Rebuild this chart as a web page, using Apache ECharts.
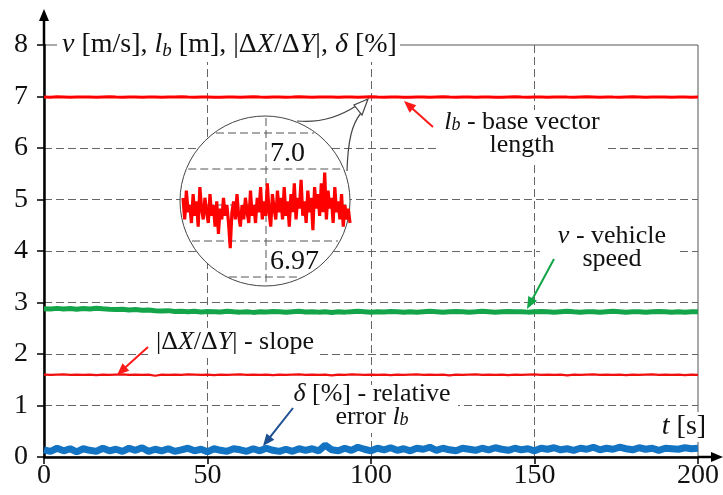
<!DOCTYPE html>
<html><head><meta charset="utf-8">
<script src="https://cdn.jsdelivr.net/npm/echarts@6/dist/echarts.min.js"></script>
<style>html,body{margin:0;padding:0;background:#fff}#c{width:723px;height:495px}</style>
</head><body><div id="c"></div>
<script>
// ---- data ----
const time = [0,2,4,6,8,10,12,14,16,18,20,22,24,26,28,30,32,34,36,38,40,42,44,46,48,50,52,54,56,58,60,62,64,66,68,70,72,74,76,78,80,82,84,86,88,90,92,94,96,98,100,102,104,106,108,110,112,114,116,118,120,122,124,126,128,130,132,134,136,138,140,142,144,146,148,150,152,154,156,158,160,162,164,166,168,170,172,174,176,178,180,182,184,186,188,190,192,194,196,198,200];
const lbLength = [6.990,6.986,6.993,6.989,6.985,6.991,6.988,6.992,6.986,6.990,
6.993,6.988,6.985,6.991,6.989,6.986,6.992,6.990,6.987,6.991,
6.989,6.993,6.988,6.986,6.990,6.992,6.987,6.985,6.991,6.989,
6.986,6.990,6.993,6.988,6.985,6.990,6.992,6.986,6.989,6.993,
6.990,6.986,6.991,6.988,6.990,6.985,6.992,6.989,6.986,6.990,
6.993,6.988,6.986,6.991,6.989,6.987,6.984,6.990,6.992,6.986,
6.990,6.993,6.988,6.985,6.991,6.989,6.986,6.992,6.990,6.987,
6.985,6.990,6.993,6.988,6.986,6.991,6.989,6.985,6.990,6.992,
6.988,6.986,6.990,6.993,6.989,6.985,6.992,6.988,6.986,6.990,
6.993,6.989,6.985,6.991,6.988,6.990,6.986,6.992,6.989,6.986,
6.990];
const vehicleSpeed = [2.880,2.872,2.886,2.875,2.882,2.868,2.884,2.874,2.888,2.878,2.870,
2.864,2.870,2.856,2.862,2.848,2.854,2.842,2.836,2.842,2.826,2.832,2.822,2.830,2.816,2.824,
2.822,2.814,2.828,2.820,2.813,2.822,2.808,2.820,2.814,2.826,
2.820,2.812,2.821,2.828,2.814,2.822,2.813,2.820,2.806,2.820,
2.813,2.822,2.828,2.820,2.812,2.821,2.814,2.826,2.820,2.812,
2.820,2.813,2.821,2.828,2.820,2.812,2.820,2.827,2.820,2.813,
2.820,2.828,2.821,2.812,2.820,2.827,2.820,2.822,2.813,2.820,
2.827,2.820,2.812,2.820,2.828,2.820,2.813,2.820,2.822,2.812,
2.820,2.828,2.821,2.813,2.820,2.822,2.812,2.820,2.827,2.820,
2.813,2.820,2.812,2.820,2.818];
const slope = [1.600,1.594,1.600,1.604,1.595,1.600,1.594,1.600,1.588,1.600,
1.595,1.600,1.604,1.594,1.600,1.595,1.600,1.578,1.600,1.594,
1.600,1.595,1.604,1.600,1.594,1.600,1.588,1.600,1.595,1.600,
1.604,1.594,1.600,1.595,1.600,1.588,1.600,1.594,1.600,1.604,
1.595,1.600,1.594,1.600,1.586,1.600,1.595,1.604,1.600,1.594,
1.600,1.595,1.600,1.588,1.600,1.594,1.600,1.604,1.595,1.600,
1.594,1.600,1.586,1.600,1.595,1.600,1.604,1.594,1.600,1.595,
1.600,1.588,1.600,1.594,1.600,1.604,1.595,1.600,1.594,1.600,
1.586,1.600,1.595,1.600,1.604,1.594,1.600,1.595,1.600,1.588,
1.600,1.594,1.600,1.604,1.595,1.600,1.594,1.600,1.588,1.600,
1.595];
const relError = [0.14,0.11,0.17,0.12,0.16,0.10,0.16,0.13,0.11,0.17,
0.12,0.15,0.11,0.17,0.13,0.18,0.11,0.15,0.12,0.16,
0.11,0.14,0.17,0.12,0.15,0.10,0.16,0.13,0.11,0.16,
0.14,0.11,0.16,0.12,0.17,0.13,0.11,0.15,0.11,0.16,
0.13,0.16,0.12,0.23,0.14,0.12,0.17,0.13,0.19,0.15,
0.12,0.17,0.14,0.18,0.13,0.16,0.12,0.17,0.15,0.19,
0.13,0.17,0.14,0.12,0.17,0.15,0.13,0.17,0.14,0.18,
0.15,0.13,0.17,0.14,0.16,0.12,0.17,0.15,0.18,0.14,
0.16,0.13,0.17,0.15,0.19,0.14,0.17,0.15,0.19,0.16,
0.14,0.18,0.15,0.17,0.13,0.17,0.16,0.15,0.18,0.16,
0.17];
const insetLb = [6.992,6.986,6.994,6.988,6.990,6.985,6.993,6.987,6.991,6.984,6.995,6.989,6.986,6.992,6.988,6.985,6.993,6.987,6.990,6.984,
6.991,6.982,6.989,6.986,6.992,6.987,6.990,6.985,6.978,6.988,6.991,6.986,6.993,6.987,6.984,6.990,6.986,6.992,6.988,6.985,
6.994,6.987,6.990,6.985,6.992,6.988,6.995,6.986,6.991,6.987,6.996,6.988,6.984,6.993,6.989,6.986,6.994,6.988,6.992,6.986,
6.995,6.987,6.991,6.984,6.993,6.988,6.996,6.986,6.992,6.989,6.997,6.987,6.991,6.985,6.994,6.988,6.992,6.983,6.995,6.989,
6.993,6.987,6.996,6.988,6.999,6.986,6.994,6.989,6.992,6.985,6.995,6.988,6.991,6.986,6.993,6.984,6.990,6.986,6.989,6.985];
const insetGridValues = [7.01, 7.00, 6.99, 6.98, 6.97];
const insetLabels = [['7.0', 7.00], ['6.97', 6.97]];

const F = 'Liberation Serif';
const chart = echarts.init(document.getElementById('c'), null, {renderer: 'canvas'});

const pair = arr => time.map((t, i) => [t, arr[i]]);
const axisLbl = {fontFamily: F, fontSize: 28, color: '#111'};
const dashed = {type: [8, 4], color: '#666', width: 1};

chart.setOption({
  animation: false,
  backgroundColor: '#fff',
  textStyle: {fontFamily: F},
  grid: [
    {left: 44, right: 25, top: 45, bottom: 38, show: true, borderColor: '#555', borderWidth: 1, backgroundColor: 'transparent'},
    {left: 183, top: 97, width: 167, height: 216}
  ],
  xAxis: [
    {gridIndex: 0, type: 'value', min: 0, max: 200, interval: 50,
     axisLine: {onZero: false, lineStyle: {color: '#000', width: 2.5}},
     axisTick: {length: 7, lineStyle: {color: '#000', width: 1.5}},
     axisLabel: Object.assign({margin: 5}, axisLbl),
     splitLine: {show: true, showMinLine: false, showMaxLine: false, lineStyle: dashed}},
    {gridIndex: 0, type: 'value', min: 0, max: 200, interval: 50,
     axisLine: {show: false}, axisTick: {show: true, inside: true, length: 6, lineStyle: {color: '#000', width: 1.5}},
     axisLabel: {show: false}, splitLine: {show: false}},
    {gridIndex: 1, type: 'value', min: 0, max: 99, show: false}
  ],
  yAxis: [
    {gridIndex: 0, type: 'value', min: 0, max: 8, interval: 1,
     axisLine: {show: true, onZero: false, lineStyle: {color: '#000', width: 2.5}},
     axisTick: {show: true, length: 7, lineStyle: {color: '#000', width: 1.5}},
     axisLabel: Object.assign({margin: 16}, axisLbl),
     splitLine: {show: true, showMinLine: false, showMaxLine: false, lineStyle: dashed}},
    {gridIndex: 0, type: 'value', min: 0, max: 8, interval: 1,
     axisLine: {show: false}, axisTick: {show: true, inside: true, length: 6, lineStyle: {color: '#000', width: 1.5}},
     axisLabel: {show: false}, splitLine: {show: false}},
    {gridIndex: 1, type: 'value', min: 6.96, max: 7.02, show: false}
  ],
  series: [
    {name: 'lb', type: 'line', xAxisIndex: 0, yAxisIndex: 0, data: pair(lbLength), showSymbol: false, z: 3,
     lineStyle: {color: '#ff0000', width: 3}},
    {name: 'v', type: 'line', xAxisIndex: 0, yAxisIndex: 0, data: pair(vehicleSpeed), showSymbol: false, z: 3,
     lineStyle: {color: '#14a54b', width: 5}},
    {name: 'slope', type: 'line', xAxisIndex: 0, yAxisIndex: 0, data: pair(slope), showSymbol: false, z: 3,
     lineStyle: {color: '#f01010', width: 2.2}},
    {name: 'delta', type: 'line', xAxisIndex: 0, yAxisIndex: 0, data: pair(relError), showSymbol: false, z: 3,
     lineStyle: {color: '#1474c4', width: 7}},
    {name: 'inset', type: 'line', xAxisIndex: 2, yAxisIndex: 2, data: insetLb.map((v, i) => [i, v]),
     showSymbol: false, z: 40, lineStyle: {color: '#ff0000', width: 3.2}}
  ]
});

// ---- annotations ----
const rich = (sz, lh) => ({
  i: {fontStyle: 'italic', fontFamily: F, fontSize: sz, lineHeight: lh, fill: '#111'},
  s: {fontStyle: 'italic', fontFamily: F, fontSize: Math.round(sz * 0.68), lineHeight: lh, verticalAlign: 'bottom', fill: '#111'}
});
function label(text, x, y, sz, lh, align) {
  return {type: 'text', z: 50, style: {text, x, y, fontFamily: F, fontSize: sz, lineHeight: lh, fill: '#111',
    align: align || 'center', verticalAlign: 'middle', rich: rich(sz, lh)}};
}
function whiteRect(x, y, w, h) {
  return {type: 'rect', z: 20, shape: {x, y, width: w, height: h}, style: {fill: '#fff'}};
}
function arrow(x1, y1, x2, y2, color) {
  const dx = x2 - x1, dy = y2 - y1, L = Math.hypot(dx, dy), ux = dx / L, uy = dy / L;
  const hl = 12, hw = 5;
  const bx = x2 - ux * hl, by = y2 - uy * hl;
  return [
    {type: 'line', z: 50, shape: {x1, y1, x2: bx + ux * 2, y2: by + uy * 2}, style: {stroke: color, lineWidth: 2}},
    {type: 'polygon', z: 50, shape: {points: [[x2, y2], [bx - uy * hw, by + ux * hw], [bx + uy * hw, by - ux * hw]]}, style: {fill: color}}
  ];
}

const o = chart.convertToPixel({gridIndex: 0}, [0, 0]);
const xe = chart.convertToPixel({gridIndex: 0}, [200, 8]);
const els = [];
els.push({type: 'line', z: 30, shape: {x1: o[0], y1: xe[1], x2: o[0], y2: 18}, style: {stroke: '#000', lineWidth: 2.5}});
els.push({type: 'polygon', z: 30, shape: {points: [[o[0], 9], [o[0] - 5, 21], [o[0] + 5, 21]]}, style: {fill: '#000'}});
els.push({type: 'line', z: 30, shape: {x1: xe[0], y1: o[1], x2: 714, y2: o[1]}, style: {stroke: '#000', lineWidth: 2.5}});
els.push({type: 'polygon', z: 30, shape: {points: [[723, o[1]], [711, o[1] - 5], [711, o[1] + 5]]}, style: {fill: '#000'}});

const cx = 265, cy = 201, r = 85;
els.push({type: 'circle', z: 30, shape: {cx, cy, r}, style: {fill: '#fff', stroke: '#444', lineWidth: 1}});
insetGridValues.forEach(v => {
  const y = chart.convertToPixel({yAxisIndex: 2}, v);
  const hw = Math.sqrt(Math.max(0, r * r - (y - cy) * (y - cy))) - 2;
  els.push({type: 'line', z: 35, shape: {x1: cx - hw, y1: y, x2: cx + hw, y2: y}, style: {stroke: '#555', lineWidth: 1, lineDash: [8, 4]}});
});
els.push({type: 'line', z: 35, shape: {x1: cx + 1, y1: cy - r + 2, x2: cx + 1, y2: cy + r - 2}, style: {stroke: '#555', lineWidth: 1, lineDash: [8, 4]}});
insetLabels.forEach(([txt, v]) => {
  const y = chart.convertToPixel({yAxisIndex: 2}, v);
  els.push({type: 'text', z: 45, style: {text: txt, x: cx + 5, y: y - 1, fontFamily: F, fontSize: 28, fill: '#111', align: 'left', verticalAlign: 'bottom'}});
});
els.push({type: 'bezierCurve', z: 45, shape: {x1: 297, y1: 121, cpx1: 328, cpy1: 124, x2: 356, y2: 106}, style: {fill: 'none', stroke: '#444', lineWidth: 1.2}});
els.push({type: 'bezierCurve', z: 45, shape: {x1: 347, y1: 171, cpx1: 348, cpy1: 140, cpx2: 352, cpy2: 124, x2: 361, y2: 113}, style: {fill: 'none', stroke: '#444', lineWidth: 1.2}});
els.push({type: 'polygon', z: 45, shape: {points: [[368, 99], [354, 105], [362, 115]]}, style: {fill: '#fff', stroke: '#444', lineWidth: 1.2}});

els.push(whiteRect(57, 29, 343, 33));
els.push(whiteRect(438, 110, 170, 53));
els.push(whiteRect(540, 226, 137, 48));
els.push(whiteRect(151, 328, 165, 30));
els.push(whiteRect(281, 385, 177, 48));
els.push(whiteRect(655, 412, 58, 30));

els.push(label('{i|v} [m/s], {i|l}{s|b} [m], |Δ{i|X}/Δ{i|Y}|, {i|δ} [%]', 62, 45, 28, 30, 'left'));
els.push(label('{i|l}{s|b} - base vector\nlength', 522, 134, 26, 23));
els.push(label('{i|v} - vehicle\nspeed', 612, 248, 26, 23));
els.push(label('|Δ{i|X}/Δ{i|Y}| - slope', 235, 342, 26, 26));
els.push(label('{i|δ} [%] - relative\nerror {i|l}{s|b}', 372, 406, 26, 23));
els.push(label('{i|t} [s]', 684, 427, 28, 28));

arrow(433, 127, 404, 101, '#ff1a1a').forEach(e => els.push(e));
arrow(554, 259, 527, 309, '#10a545').forEach(e => els.push(e));
arrow(148, 347, 117, 375, '#ff1a1a').forEach(e => els.push(e));
arrow(293, 408, 263, 446, '#1d4f91').forEach(e => els.push(e));

chart.setOption({graphic: {elements: els}});
</script>
</body></html>
